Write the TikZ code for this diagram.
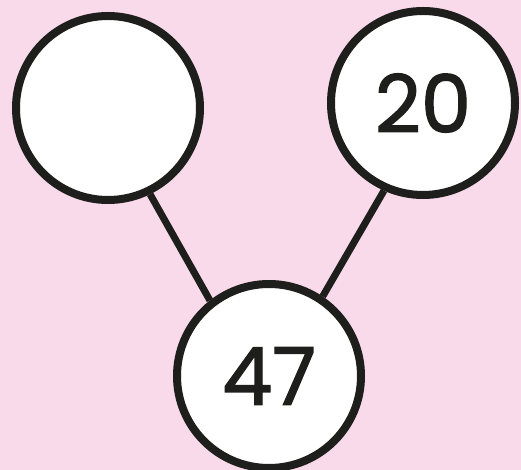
\documentclass[tikz,border=0pt]{standalone}
\usepackage{fontspec}
\newfontfamily\digitfont{Poppins}[FakeBold=1.6]
\usetikzlibrary{positioning}
\definecolor{cpink}{HTML}{F9DAEA}
\definecolor{cink}{HTML}{1E1E1C}
\tikzset{
  every picture/.style={line width=8pt, x=1pt, y=1pt},
  part/.style={circle, draw=cink, fill=white, inner sep=0pt, minimum size=184pt,
    font=\digitfont\fontsize{80}{80}\selectfont, text=cink},
  link/.style={draw=cink, line width=7pt},
}

\begin{document}
\begin{tikzpicture}
  % background
  \fill[cpink] (0,0) rectangle (521,470);
  \useasboundingbox (0,0) rectangle (521,470);
  % circles
  \node[part] (partA) at (108,362) {};
  \node[part] (partB) at (423,367) {20};
  \node[part] (whole) at (269,94) {47};
  % links
  \draw[link] (partA.-64) -- (whole.128);
  \draw[link] (partB.-114) -- (whole.56);
\end{tikzpicture}
\end{document}
